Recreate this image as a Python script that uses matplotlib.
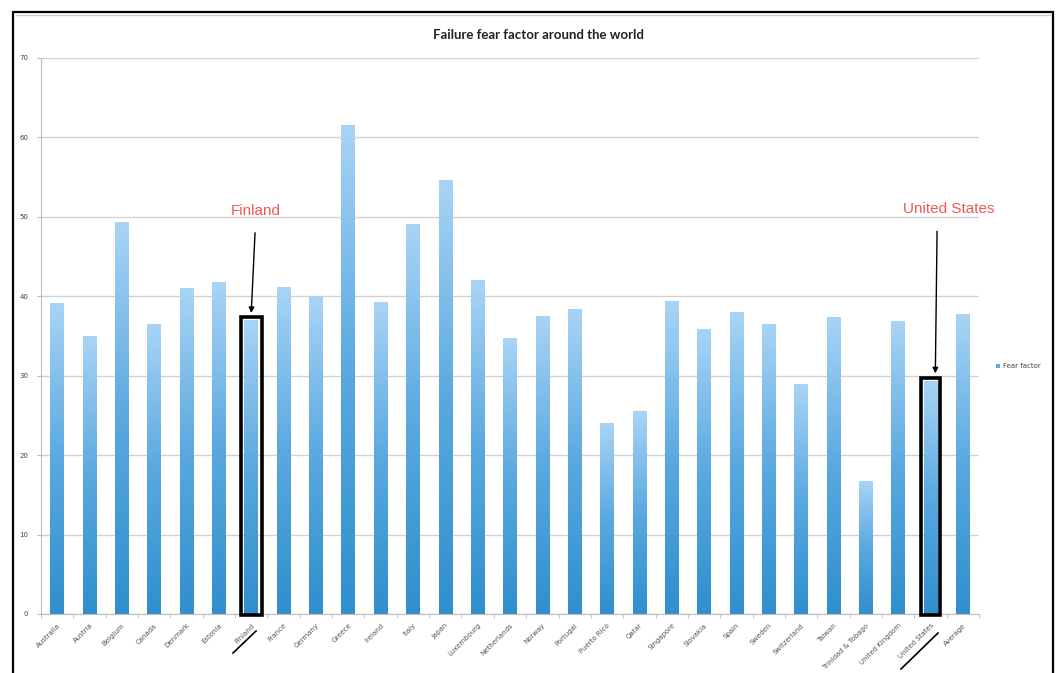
import numpy as np
import matplotlib.pyplot as plt
from matplotlib.colors import LinearSegmentedColormap
from matplotlib.patches import Rectangle
from matplotlib.lines import Line2D

countries = ["Australia", "Austria", "Belgium", "Canada", "Denmark", "Estonia",
             "Finland", "France", "Germany", "Greece", "Ireland", "Italy", "Japan",
             "Luxembourg", "Netherlands", "Norway", "Portugal", "Puerto Rico", "Qatar",
             "Singapore", "Slovakia", "Spain", "Sweden", "Switzerland", "Taiwan",
             "Trinidad & Tobago", "United Kingdom", "United States", "Average"]
fear = [39.2, 35.0, 49.4, 36.5, 41.0, 41.8,
        37.0, 41.2, 40.0, 61.6, 39.3, 49.1, 54.6,
        42.1, 34.8, 37.5, 38.4, 24.0, 25.5,
        39.4, 35.9, 38.0, 36.5, 29.0, 37.4,
        16.8, 36.9, 29.3, 37.8]
highlight = ["Finland", "United States"]

fig = plt.figure(figsize=(10.62, 6.73), dpi=100)
ax = fig.add_axes([41 / 1062, 59 / 673, 938 / 1062, 556 / 673])

x = np.arange(len(countries))
bars = ax.bar(x, fear, width=0.42, color='none', edgecolor='none', zorder=2)

# vertical gradient inside each bar, light on top, darker at the base
cmap = LinearSegmentedColormap.from_list('fade', ['#2f8fcd', '#5aa9e0', '#a9d4f6'])
grad = np.linspace(0, 1, 256).reshape(-1, 1)
for b in bars:
    x0, w, h = b.get_x(), b.get_width(), b.get_height()
    im = ax.imshow(grad, extent=[x0, x0 + w, 0, h], origin='lower', cmap=cmap,
                   aspect='auto', zorder=2, interpolation='bicubic')
    im.set_clip_path(b)

ax.set_xlim(-0.5, len(countries) - 0.5)
ax.set_ylim(0, 70)
ax.set_yticks(range(0, 71, 10))
ax.yaxis.grid(True, color='#d2d2d2', linewidth=1.0, zorder=0)
ax.set_axisbelow(True)
for side in ['top', 'right']:
    ax.spines[side].set_visible(False)
ax.spines['left'].set_color('#bdbdbd')
ax.spines['bottom'].set_color('#bdbdbd')
ax.tick_params(axis='y', length=3, color='#bdbdbd', labelsize=5, labelcolor='#444444', pad=6)

ax.set_xticks(x)
ax.set_xticklabels(countries, rotation=45, ha='right', rotation_mode='anchor',
                   fontsize=5, color='#555555')
ax.set_xticks(np.arange(-0.5, len(countries), 1), minor=True)
ax.tick_params(axis='x', which='major', length=0, pad=6)
ax.tick_params(axis='x', which='minor', length=3, color='#bdbdbd')

# black boxes and red call-outs for the two countries of interest
for name, dx in zip(highlight, [0.33, 0.29]):
    i = countries.index(name)
    ax.add_patch(Rectangle((i - dx, -0.1), 2 * dx, fear[i] + 0.5, fill=False,
                           edgecolor='black', linewidth=2.6, zorder=4, clip_on=False))

fi = countries.index("Finland")
ax.annotate("Finland", xy=(fi, fear[fi] + 0.9), xytext=(fi + 0.15, 50.8),
            ha='center', va='center', fontsize=11, color='#ec5a54', family='Liberation Sans',
            arrowprops=dict(arrowstyle='-|>', color='black', lw=1.0, mutation_scale=8,
                            shrinkA=9, shrinkB=0))
us = countries.index("United States")
ax.annotate("United States", xy=(us + 0.15, fear[us] + 1.0), xytext=(us + 0.58, 51.0),
            ha='center', va='center', fontsize=11, color='#ec5a54', family='Liberation Sans',
            arrowprops=dict(arrowstyle='-|>', color='black', lw=1.0, mutation_scale=8,
                            shrinkA=9, shrinkB=0, relpos=(0.37, 0.5)))

# hand-drawn underlines under the two tick labels
for (x1, y1), (x2, y2) in [((233, 653), (256, 631)), ((901, 669), (938, 633))]:
    fig.add_artist(Line2D([x1 / 1062, x2 / 1062], [1 - y1 / 673, 1 - y2 / 673],
                          color='black', linewidth=1.2, transform=fig.transFigure))

fig.text(538 / 1062, 1 - 35 / 673, "Failure fear factor around the world",
         ha='center', va='center', fontsize=9.5, fontweight='bold', family='Lato',
         color='#222222')

# legend
fig.add_artist(Rectangle((996 / 1062, 1 - 368 / 673), 4 / 1062, 4 / 673,
                         facecolor='#5aa9e0', edgecolor='none', transform=fig.transFigure))
fig.text(1003 / 1062, 1 - 366 / 673, "Fear factor", ha='left', va='center',
         fontsize=5, color='#444444')

# outer frame
fig.add_artist(Rectangle((13 / 1062, -0.05), 1040 / 1062, 1 - 12 / 673 + 0.05,
                         fill=False, edgecolor='black', linewidth=1.6,
                         transform=fig.transFigure))
fig.add_artist(Line2D([16 / 1062, 1050 / 1062], [1 - 15 / 673, 1 - 15 / 673],
                      color='#cccccc', linewidth=1.0, transform=fig.transFigure))

fig.savefig('out.png', dpi=100)
